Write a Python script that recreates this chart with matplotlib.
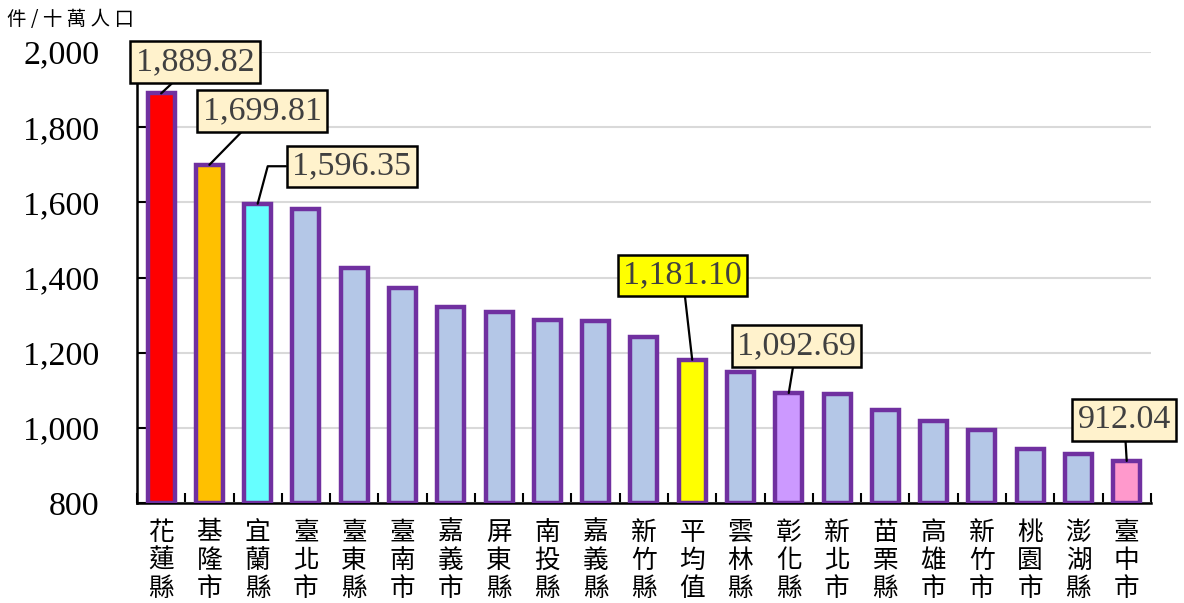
import matplotlib

matplotlib.use("Agg")
import matplotlib.pyplot as plt

plt.rcParams["font.family"] = ["Liberation Serif", "Noto Sans CJK TC", "DejaVu Sans"]

# 各縣市刑案發生率（件/十萬人口）
regions = [
    "花蓮縣", "基隆市", "宜蘭縣", "臺北市", "臺東縣", "臺南市", "嘉義市",
    "屏東縣", "南投縣", "嘉義縣", "新竹縣", "平均值", "雲林縣", "彰化縣",
    "新北市", "苗栗縣", "高雄市", "新竹市", "桃園市", "澎湖縣", "臺中市",
]
rates = [
    1889.82, 1699.81, 1596.35, 1583, 1425, 1372, 1321,
    1308, 1287, 1284, 1242, 1181.10, 1148, 1092.69,
    1090, 1047, 1018, 994, 944, 930, 912.04,
]
highlight = {
    "花蓮縣": "#FF0000",
    "基隆市": "#FFC000",
    "宜蘭縣": "#66FFFF",
    "平均值": "#FFFF00",
    "彰化縣": "#CC99FF",
    "臺中市": "#FF99CC",
}
# label box: (category, box centre x, box centre y, box colour)
callouts = [
    ("花蓮縣", 0.70, 1973, "#FFF2CC"),
    ("基隆市", 2.09, 1843, "#FFF2CC"),
    ("宜蘭縣", 3.95, 1696, "#FFF2CC"),
    ("平均值", 10.80, 1406, "#FFFF00"),
    ("彰化縣", 13.16, 1218, "#FFF2CC"),
    ("臺中市", 19.95, 1021, "#FFF2CC"),
]

fig = plt.figure(figsize=(11.84, 6.03), dpi=100)
ax = fig.add_axes([0.1157, 0.1658, 0.8563, 0.748])

x = list(range(len(regions)))
colors = [highlight.get(r, "#B4C7E7") for r in regions]
ax.bar(x, [v - 800 for v in rates], bottom=800, width=0.56, color=colors,
       edgecolor="#7030A0", linewidth=3.2, zorder=3)

ax.set_xlim(-0.5, len(regions) - 0.5)
ax.set_ylim(800, 2000)
ax.set_yticks(range(800, 2001, 200))
ax.set_yticklabels([f"{v:,}" for v in range(800, 2001, 200)], fontsize=24.5)
ax.yaxis.grid(True, color="#D9D9D9", linewidth=1.5, zorder=0)
ax.tick_params(axis="y", direction="in", length=10, width=1.5, pad=27)

ax.set_xticks([i + 0.5 for i in x[:-1]] + [-0.5, len(regions) - 0.5])
ax.set_xticklabels([])
ax.tick_params(axis="x", direction="in", length=7, width=1.5)
for i, r in enumerate(regions):
    ax.text(i, 756, "\n".join(r), ha="center", va="top", fontsize=18.5,
            family=["Noto Sans CJK TC"], linespacing=1.1, clip_on=False)

for s in ("top", "right"):
    ax.spines[s].set_visible(False)
for s in ("left", "bottom"):
    ax.spines[s].set_linewidth(1.8)

for name, bx, by, fc in callouts:
    i = regions.index(name)
    v = rates[i]
    conn = "arc3"
    if name == "宜蘭縣":
        conn = "angle,angleA=0,angleB=75,rad=0"
    ax.annotate(f"{v:,.2f}", xy=(i, v), xytext=(bx, by), ha="center", va="center",
                fontsize=24.5, color="#404040", zorder=5, annotation_clip=False,
                bbox=dict(boxstyle="square,pad=0.16", fc=fc, ec="black", lw=1.8),
                arrowprops=dict(arrowstyle="-", color="black", lw=1.6,
                                connectionstyle=conn, shrinkA=0, shrinkB=0))

fig.text(0.006, 0.967, "件 / 十 萬 人 口", fontsize=14, family=["Noto Sans CJK TC"],
         ha="left", va="center")

fig.savefig("out.png", dpi=100)
